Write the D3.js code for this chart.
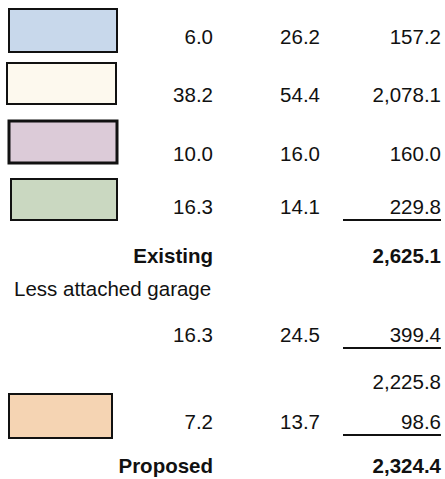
<!DOCTYPE html>
<html>
<head>
<meta charset="utf-8">
<script src="https://cdn.jsdelivr.net/npm/d3@7"></script>
<style>
  body { margin: 0; background: #fff; }
  text { font-family: "Liberation Sans", Arial, sans-serif; font-size: 20.5px; fill: #111; }
</style>
</head>
<body>
<script>
// rows of the area table
const rooms = ["r1", "r2", "r3", "r4", "existing", "less", "garage", "subtotal", "added", "proposed"];
const swatchRooms = ["r1", "r2", "r3", "r4", "added"];
const swatchColors = ["#c8d8eb", "#fdf9ee", "#dccbd8", "#cad8c1", "#f5d4b3"];
const widths = { r1: "6.0", r2: "38.2", r3: "10.0", r4: "16.3", garage: "16.3", added: "7.2" };
const lengths = { r1: "26.2", r2: "54.4", r3: "16.0", r4: "14.1", garage: "24.5", added: "13.7" };
const areas = { r1: "157.2", r2: "2,078.1", r3: "160.0", r4: "229.8", existing: "2,625.1",
                garage: "399.4", subtotal: "2,225.8", added: "98.6", proposed: "2,324.4" };
const labels = { existing: "Existing", less: "Less attached garage", proposed: "Proposed" };
const boldRows = ["existing", "proposed"];
const underlined = ["r4", "garage", "added"];

const W = 445, H = 479;
const svg = d3.select("body").append("svg").attr("width", W).attr("height", H);

// baseline of each row
const y = d3.scaleOrdinal()
  .domain(rooms)
  .range([44, 102, 161, 214, 263, 296, 342, 389, 429, 473]);

// colour boxes: top, left, right, height (hand drawn, so a little uneven)
const boxTop = d3.scaleOrdinal().domain(swatchRooms).range([9, 63, 121, 179, 394]);
const boxLeft = d3.scaleOrdinal().domain(swatchRooms).range([9, 7, 9, 11, 9]);
const boxRight = d3.scaleOrdinal().domain(swatchRooms).range([117, 116, 117, 117, 112]);
const boxH = d3.scaleOrdinal().domain(swatchRooms).range([43, 41, 42, 41, 44]);

// right edges of the three number columns
const x = d3.scaleOrdinal()
  .domain(["w", "l", "a"])
  .range([213, 320, 441]);

const sw = svg.append("g");
swatchRooms.forEach((r, i) => {
  sw.append("rect")
    .attr("x", boxLeft(r)).attr("y", boxTop(r))
    .attr("width", boxRight(r) - boxLeft(r)).attr("height", boxH(r))
    .attr("fill", swatchColors[i])
    .attr("stroke", "#111")
    .attr("stroke-width", r === "r3" ? 3 : 2);
});

const g = svg.append("g");
rooms.forEach(r => {
  const bold = boldRows.includes(r);
  if (widths[r]) g.append("text").attr("x", x("w")).attr("y", y(r)).attr("text-anchor", "end").text(widths[r]);
  if (lengths[r]) g.append("text").attr("x", x("l")).attr("y", y(r)).attr("text-anchor", "end").text(lengths[r]);
  if (areas[r]) g.append("text").attr("x", x("a")).attr("y", y(r)).attr("text-anchor", "end")
    .attr("font-weight", bold ? "bold" : null).text(areas[r]);
  if (labels[r]) {
    const t = g.append("text").attr("y", y(r)).text(labels[r]);
    if (bold) t.attr("x", x("w")).attr("text-anchor", "end").attr("font-weight", "bold");
    else t.attr("x", 14);
  }
  if (underlined.includes(r)) {
    g.append("line")
      .attr("x1", 343).attr("x2", 441)
      .attr("y1", y(r) + 6).attr("y2", y(r) + 6)
      .attr("stroke", "#111").attr("stroke-width", 2);
  }
});
</script>
</body>
</html>
